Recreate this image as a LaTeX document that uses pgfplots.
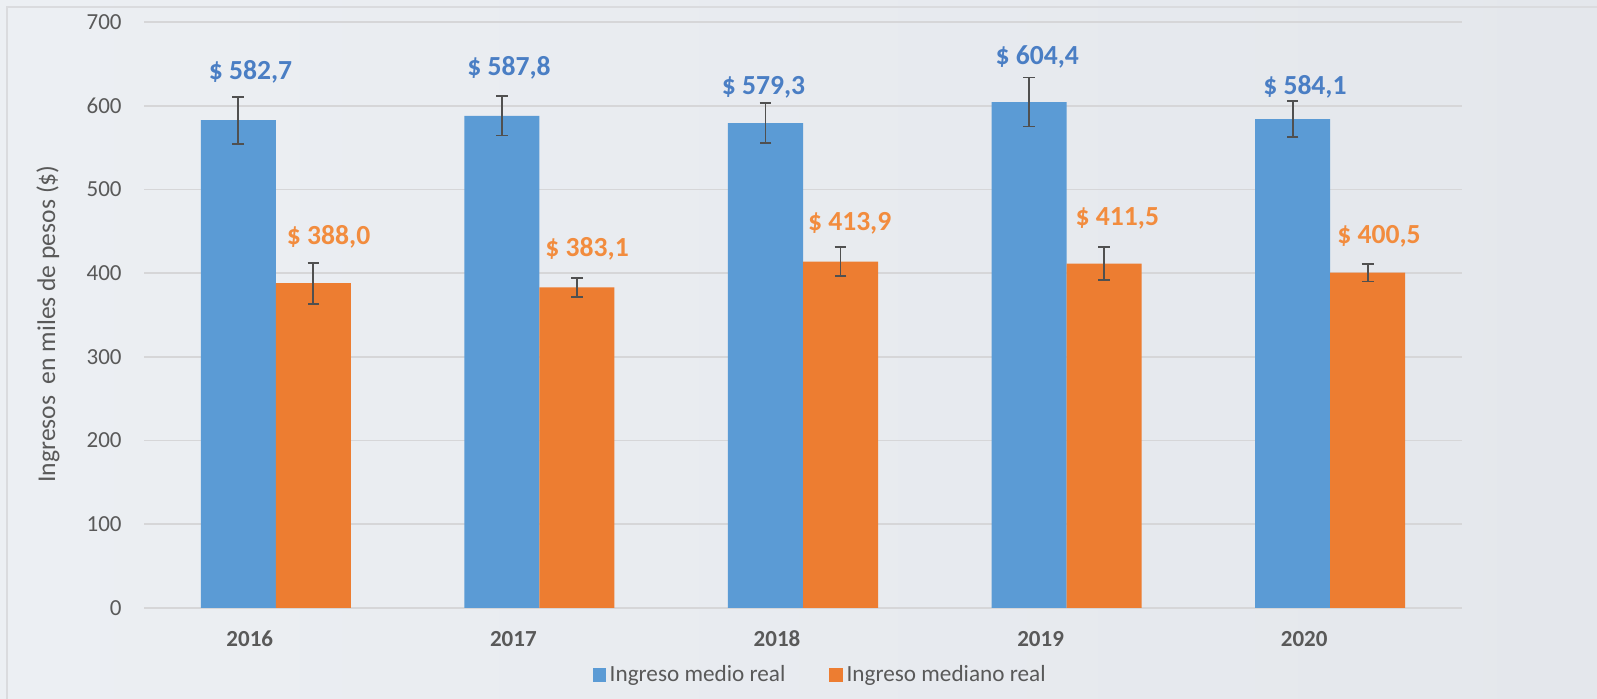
\documentclass[border=0pt]{standalone}
\usepackage{pgfplots}
\pgfplotsset{compat=1.18}
\usepackage{pgfplotstable}
\usepackage{fontspec}
\setmainfont{Carlito}
\definecolor{bblue}{RGB}{91,155,213}
\definecolor{borange}{RGB}{237,125,49}
\definecolor{lblue}{RGB}{74,126,196}
\definecolor{lorange}{RGB}{242,140,62}
\definecolor{txt}{RGB}{89,89,89}
\definecolor{gridc}{RGB}{214,214,216}
\definecolor{errc}{RGB}{80,80,80}
\pgfplotstableread{
x   medio  emedio  mediano  emediano
0   582.7  28.0    388.0    24.5
1   587.8  23.5    383.1    11.4
2   579.3  23.5    413.9    17.5
3   604.4  29.3    411.5    20.0
4   584.1  21.5    400.5    10.6
}\datatab
% label positions (x, y of label centre, value shown)
\pgfplotstableread{
x        y      v
-0.0959  640.7  582.7
 0.8848  644.7  587.8
 1.8500  622.0  579.3
 2.8887  658.0  604.4
 3.9041  622.8  584.1
}\labblue
\pgfplotstableread{
x        y      v
 0.2003  443.6  388.0
 1.1810  428.5  383.1
 2.1771  459.6  413.9
 3.1926  465.5  411.5
 4.1849  444.4  400.5
}\laborange
\begin{document}
\begin{tikzpicture}
\useasboundingbox (0,0) rectangle (798.5pt,349.5pt);
\shade[left color={rgb,255:red,236;green,239;blue,243}, middle color={rgb,255:red,244;green,245;blue,248}, right color={rgb,255:red,228;green,231;blue,236}] (0,0) rectangle (798.5pt,349.5pt);
\draw[color={rgb,255:red,218;green,219;blue,222}, line width=0.8pt] (3.5pt,0) -- (3.5pt,346pt) -- (798.5pt,346pt);
\begin{axis}[
  at={(72pt,45.5pt)}, anchor=south west,
  scale only axis, width=659pt, height=293pt,
  xmin=-0.5, xmax=4.5, ymin=0, ymax=700,
  axis line style={draw=none},
  major tick length=0pt,
  ymajorgrids, grid style={gridc, line width=0.9pt},
  xtick={0,1,2,3,4}, xticklabels={2016,2017,2018,2019,2020},
  ytick={0,100,...,700},
  /pgf/number format/assume math mode=true,
  xticklabel style={anchor=center, yshift=-15.5pt, xshift=-13pt, font=\fontsize{11.5}{13}\selectfont\bfseries, text=txt},
  yticklabel style={anchor=east, inner sep=0pt, xshift=-11pt, font=\fontsize{11.5}{13}\selectfont, text=txt},
  legend style={at={(0.5137,-0.1143)}, anchor=center, draw=none, fill=none,
    legend columns=2, font=\fontsize{11.6}{13}\selectfont, text=txt,
    /tikz/every even column/.append style={column sep=20pt}},
  legend image code/.code={\fill[#1, draw=none] (0pt,-3.3pt) rectangle (6.6pt,3.3pt);},
  error bars/error bar style={errc, line width=0.9pt},
  error bars/error mark options={errc, rotate=90, mark size=2.9pt, line width=0.9pt},
]
\addplot[ybar, bar width=0.2846, bar shift=0, fill=bblue, draw=none,
  error bars/.cd, y dir=both, y explicit]
  table[x expr=\thisrow{x}-0.1423, y=medio, y error=emedio] {\datatab};
\addlegendentry{Ingreso medio real}
\addplot[ybar, bar width=0.2846, bar shift=0, fill=borange, draw=none,
  error bars/.cd, y dir=both, y explicit]
  table[x expr=\thisrow{x}+0.1423, y=mediano, y error=emediano] {\datatab};
\addlegendentry{Ingreso mediano real}
\addplot[forget plot, draw=none, mark=none, point meta=explicit,
  nodes near coords={\$ \pgfmathprintnumber[fixed, fixed zerofill, precision=1, use comma]{\pgfplotspointmeta}},
  every node near coord/.style={anchor=center, text=lblue, font=\fontsize{13.8}{15}\selectfont\bfseries}]
  table[x=x, y=y, meta=v] {\labblue};
\addplot[forget plot, draw=none, mark=none, point meta=explicit,
  nodes near coords={\$ \pgfmathprintnumber[fixed, fixed zerofill, precision=1, use comma]{\pgfplotspointmeta}},
  every node near coord/.style={anchor=center, text=lorange, font=\fontsize{13.8}{15}\selectfont\bfseries}]
  table[x=x, y=y, meta=v] {\laborange};
\end{axis}
\node[rotate=90, text=txt, font=\fontsize{12.8}{14}\selectfont] at (24pt,187.5pt) {Ingresos\ \ en miles de pesos (\$)};
\end{tikzpicture}
\end{document}
